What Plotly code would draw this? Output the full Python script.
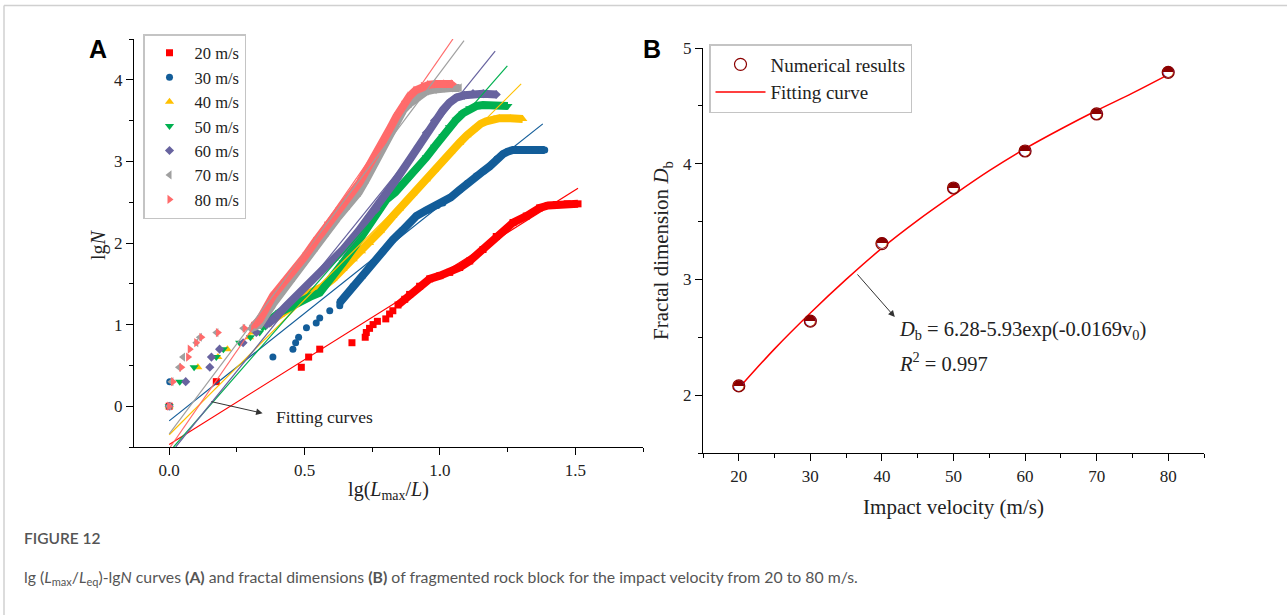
import plotly.graph_objects as go

W, H = 1287, 615
SERIF = "Liberation Serif"

# ---------------- Panel A data ----------------
series_names = ["20 m/s", "30 m/s", "40 m/s", "50 m/s", "60 m/s", "70 m/s", "80 m/s"]
series_colors = ["#FF0000", "#135D99", "#FFC000", "#00B050", "#67639F", "#A0A0A0", "#FF6B6B"]
series_symbols = ["square", "circle", "triangle-up", "triangle-down", "diamond", "triangle-left", "triangle-right"]

# discrete (sparse) points at small lg(Lmax/L)
disc_x = [
    [0.0, 0.174, 0.488, 0.515, 0.556, 0.675, 0.724, 0.728, 0.740, 0.753, 0.769, 0.80, 0.814, 0.826],
    [0.0, 0.002, 0.383, 0.457, 0.467, 0.478, 0.507, 0.543, 0.556, 0.593, 0.63],
    [0.0, 0.106, 0.18, 0.215, 0.297, 0.307, 0.365],
    [0.0, 0.039, 0.092, 0.174, 0.20, 0.26, 0.30, 0.334],
    [0.0, 0.061, 0.15, 0.156, 0.186, 0.273, 0.322],
    [0.0, 0.008, 0.036, 0.051, 0.10, 0.113, 0.174, 0.273],
    [0.0, 0.014, 0.045, 0.07, 0.076, 0.10, 0.119, 0.18, 0.279],
]
disc_y = [
    [0.0, 0.301, 0.477, 0.602, 0.699, 0.778, 0.845, 0.903, 0.954, 1.0, 1.04, 1.07, 1.13, 1.17],
    [0.0, 0.301, 0.602, 0.699, 0.778, 0.845, 0.96, 1.02, 1.08, 1.17, 1.23],
    [0.0, 0.477, 0.602, 0.699, 0.845, 0.903, 1.0],
    [0.0, 0.301, 0.477, 0.602, 0.699, 0.778, 0.845, 0.903],
    [0.0, 0.301, 0.477, 0.602, 0.699, 0.778, 0.903],
    [0.0, 0.301, 0.477, 0.602, 0.778, 0.845, 0.903, 0.954],
    [0.0, 0.301, 0.477, 0.602, 0.699, 0.778, 0.845, 0.903, 0.954],
]
# dense part of each curve
band_x = [
    [0.845, 0.870, 0.888, 0.925, 0.962, 1.0, 1.036, 1.073, 1.11, 1.159, 1.208, 1.27, 1.319, 1.368, 1.40, 1.43, 1.47, 1.51],
    [0.63, 0.679, 0.715, 0.753, 0.79, 0.826, 0.863, 0.913, 0.95, 0.99, 1.011, 1.04, 1.073, 1.10, 1.134, 1.16, 1.184, 1.21, 1.233, 1.25, 1.27, 1.306, 1.35, 1.387],
    [0.383, 0.41, 0.457, 0.494, 0.531, 0.57, 0.605, 0.642, 0.68, 0.71, 0.74, 0.78, 0.826, 0.85, 0.90, 0.95, 0.98, 1.011, 1.04, 1.073, 1.10, 1.122, 1.15, 1.171, 1.20, 1.22, 1.26, 1.306],
    [0.345, 0.37, 0.408, 0.445, 0.482, 0.52, 0.556, 0.60, 0.642, 0.69, 0.74, 0.775, 0.802, 0.835, 0.863, 0.888, 0.92, 0.95, 0.98, 1.011, 1.035, 1.06, 1.085, 1.11, 1.135, 1.159, 1.20, 1.251],
    [0.36, 0.383, 0.433, 0.48, 0.519, 0.56, 0.60, 0.642, 0.70, 0.74, 0.765, 0.80, 0.839, 0.888, 0.92, 0.95, 0.98, 1.011, 1.035, 1.06, 1.09, 1.122, 1.16, 1.208],
    [0.30, 0.334, 0.383, 0.42, 0.457, 0.50, 0.54, 0.58, 0.62, 0.66, 0.70, 0.728, 0.76, 0.79, 0.815, 0.839, 0.865, 0.888, 0.92, 0.95, 0.98, 1.011, 1.04, 1.073],
    [0.31, 0.334, 0.383, 0.42, 0.457, 0.50, 0.54, 0.58, 0.62, 0.66, 0.703, 0.728, 0.76, 0.79, 0.815, 0.839, 0.865, 0.888, 0.91, 0.937, 0.96, 0.987, 1.02, 1.048],
]
band_y = [
    [1.24, 1.31, 1.37, 1.47, 1.56, 1.60, 1.64, 1.70, 1.78, 1.92, 2.08, 2.25, 2.33, 2.43, 2.46, 2.47, 2.48, 2.48],
    [1.27, 1.47, 1.60, 1.76, 1.90, 2.04, 2.16, 2.33, 2.40, 2.46, 2.49, 2.56, 2.65, 2.73, 2.82, 2.88, 2.94, 3.03, 3.09, 3.12, 3.14, 3.14, 3.14, 3.14],
    [1.06, 1.12, 1.23, 1.35, 1.40, 1.47, 1.56, 1.68, 1.80, 1.90, 2.0, 2.15, 2.33, 2.42, 2.61, 2.78, 2.90, 3.02, 3.12, 3.23, 3.32, 3.39, 3.46, 3.49, 3.52, 3.53, 3.53, 3.52],
    [0.96, 1.05, 1.15, 1.22, 1.29, 1.34, 1.39, 1.57, 1.76, 1.98, 2.21, 2.38, 2.53, 2.62, 2.72, 2.80, 2.92, 3.05, 3.18, 3.31, 3.42, 3.51, 3.59, 3.65, 3.68, 3.69, 3.69, 3.68],
    [1.0, 1.06, 1.23, 1.38, 1.51, 1.65, 1.78, 1.92, 2.15, 2.33, 2.41, 2.60, 2.78, 3.02, 3.18, 3.35, 3.50, 3.63, 3.72, 3.78, 3.81, 3.83, 3.83, 3.82],
    [0.95, 1.0, 1.25, 1.42, 1.58, 1.78, 1.95, 2.13, 2.30, 2.46, 2.62, 2.78, 2.98, 3.18, 3.36, 3.51, 3.63, 3.71, 3.80, 3.86, 3.88, 3.90, 3.90, 3.90],
    [0.98, 1.06, 1.35, 1.50, 1.64, 1.83, 2.02, 2.21, 2.38, 2.55, 2.74, 2.88, 3.05, 3.23, 3.40, 3.55, 3.69, 3.80, 3.87, 3.92, 3.94, 3.95, 3.95, 3.95],
]
# fitting lines: start and end points
fit_x0 = [0.0, 0.0, 0.0, 0.016, 0.024, 0.0, 0.004]
fit_y0 = [-0.47, -0.18, -0.35, -0.50, -0.50, -0.34, -0.50]
fit_x1 = [1.51, 1.38, 1.30, 1.249, 1.204, 1.089, 1.048]
fit_y1 = [2.67, 3.46, 3.95, 4.17, 4.35, 4.48, 4.50]

# ---------------- Panel B data ----------------
velocity = [20, 30, 40, 50, 60, 70, 80]
fractal_dim = [2.08, 2.64, 3.31, 3.79, 4.11, 4.43, 4.79]
curve_v = [20, 25, 30, 35, 40, 45, 50, 55, 60, 65, 70, 75, 80]
curve_d = [2.06, 2.40, 2.71, 3.00, 3.27, 3.51, 3.73, 3.94, 4.13, 4.30, 4.46, 4.61, 4.77]

fig = go.Figure()

# bands + markers (panel A)
for i in range(7):
    fig.add_trace(go.Scatter(
        x=band_x[i], y=band_y[i], mode="lines", xaxis="x", yaxis="y",
        line=dict(color=series_colors[i], width=8), showlegend=False, hoverinfo="skip"))
    msize = 7 if series_symbols[i] in ("square", "circle", "diamond") else 8
    fig.add_trace(go.Scatter(
        x=disc_x[i] + band_x[i], y=disc_y[i] + band_y[i], mode="markers",
        xaxis="x", yaxis="y", name=series_names[i], legend="legend",
        marker=dict(symbol=series_symbols[i], color=series_colors[i], size=msize, line=dict(width=0))))
for i in range(7):
    fig.add_trace(go.Scatter(
        x=[fit_x0[i], fit_x1[i]], y=[fit_y0[i], fit_y1[i]], mode="lines",
        xaxis="x", yaxis="y", line=dict(color=series_colors[i], width=1.2),
        showlegend=False, hoverinfo="skip"))

# panel B
fig.add_trace(go.Scatter(
    x=curve_v, y=curve_d, mode="lines", line=dict(color="#FF0000", width=1.5, shape="spline"),
    xaxis="x2", yaxis="y2", name="Fitting curve", legend="legend2", legendrank=2))
fig.add_trace(go.Scatter(
    x=velocity, y=fractal_dim, mode="markers", xaxis="x2", yaxis="y2",
    name="Numerical results", legend="legend2", legendrank=1,
    marker=dict(symbol="circle", size=12, color="#FFFFFF",
                line=dict(color="#8B0000", width=1.2))))
fig.add_trace(go.Scatter(
    x=velocity, y=fractal_dim, mode="text", text=["\u25D3"] * len(velocity),
    textposition="middle center", xaxis="x2", yaxis="y2", showlegend=False, hoverinfo="skip",
    textfont=dict(family="DejaVu Sans", size=15, color="#8B0000")))

axis_common = dict(showline=True, linecolor="#000", linewidth=1.3, ticks="outside",
                   ticklen=7, tickwidth=1.3, tickcolor="#000", showgrid=False, zeroline=False,
                   tickfont=dict(family=SERIF, size=17, color="#222"))
minor_common = dict(ticks="outside", ticklen=4, tickwidth=1.3, tickcolor="#000", tick0=0)

fig.update_layout(
    width=W, height=H, margin=dict(l=0, r=0, t=0, b=0, autoexpand=False),
    paper_bgcolor="white", plot_bgcolor="white",
    xaxis=dict(domain=[134 / W, 643 / W], range=[-0.13, 1.75], anchor="y",
               tickvals=[0, 0.5, 1.0, 1.5], ticktext=["0.0", "0.5", "1.0", "1.5"],
               minor=dict(dtick=0.25, **minor_common),
               title=dict(text="lg(<i>L</i><sub>max</sub>/<i>L</i>)", font=dict(family=SERIF, size=20, color="#222"), standoff=3),
               **axis_common),
    yaxis=dict(domain=[1 - 447 / H, 1 - 39 / H], range=[-0.5, 4.5], anchor="x",
               tickvals=[0, 1, 2, 3, 4],
               minor=dict(dtick=0.5, **minor_common),
               **axis_common),
    xaxis2=dict(domain=[703 / W, 1204 / W], range=[15, 85], anchor="y2",
                tickvals=[20, 30, 40, 50, 60, 70, 80],
                minor=dict(dtick=5, **minor_common),
                title=dict(text="Impact velocity (m/s)", font=dict(family=SERIF, size=21, color="#222"), standoff=14),
                **axis_common),
    yaxis2=dict(domain=[1 - 453 / H, 1 - 48 / H], range=[1.5, 5], anchor="x2",
                tickvals=[2, 3, 4, 5],
                minor=dict(dtick=0.5, **minor_common),
                title=dict(text="Fractal dimension <i>D</i><sub>b</sub>", font=dict(family=SERIF, size=21, color="#222"), standoff=8),
                **axis_common),
    legend=dict(x=143 / W, y=1 - 34 / H, xanchor="left", yanchor="top",
                bgcolor="white", bordercolor="#C4C4C4", borderwidth=1.5,
                font=dict(family=SERIF, size=16.5, color="#222"), itemwidth=40, tracegroupgap=0),
    legend2=dict(x=709 / W, y=1 - 44 / H, xanchor="left", yanchor="top",
                 bgcolor="white", bordercolor="#C4C4C4", borderwidth=1.5,
                 font=dict(family=SERIF, size=19, color="#222"), itemwidth=50, tracegroupgap=0),
    showlegend=True,
)

ann = []
# Panel labels
ann.append(dict(text="<b>A</b>", x=98 / W, y=1 - 49 / H, xref="paper", yref="paper",
                xanchor="center", yanchor="middle",
                showarrow=False, font=dict(family="Liberation Sans", size=25, color="#000")))
ann.append(dict(text="<b>B</b>", x=652 / W, y=1 - 49 / H, xref="paper", yref="paper",
                xanchor="center", yanchor="middle",
                showarrow=False, font=dict(family="Liberation Sans", size=25, color="#000")))
# Panel A y-axis title
ann.append(dict(text="lg<i>N</i>", x=98 / W, y=1 - 245 / H, xref="paper", yref="paper",
                xanchor="center", yanchor="middle", textangle=-90, showarrow=False,
                font=dict(family=SERIF, size=20, color="#222")))
# Panel A arrow + text
ann.append(dict(x=0.345, y=-0.086, ax=0.15, ay=0.06, xref="x", yref="y", axref="x", ayref="y",
                text="", showarrow=True, arrowhead=2, arrowsize=1.3, arrowwidth=1, arrowcolor="#333"))
ann.append(dict(x=0.386, y=-0.136, xref="x", yref="y", xanchor="left", yanchor="middle",
                text="Fitting curves", showarrow=False, font=dict(family=SERIF, size=17.5, color="#222")))
# Panel B arrow + text
ann.append(dict(x=41.8, y=2.675, ax=36.4, ay=3.056, xref="x2", yref="y2", axref="x2", ayref="y2",
                text="", showarrow=True, arrowhead=2, arrowsize=1.3, arrowwidth=1, arrowcolor="#333"))
ann.append(dict(x=42.1, y=2.563, xref="x2", yref="y2", xanchor="left", yanchor="middle",
                text="<i>D</i><sub>b</sub> = 6.28-5.93exp(-0.0169v<sub>0</sub>)", showarrow=False,
                font=dict(family=SERIF, size=20.5, color="#222")))
ann.append(dict(x=42.1, y=2.286, xref="x2", yref="y2", xanchor="left", yanchor="middle",
                text="<i>R</i><sup>2</sup> = 0.997", showarrow=False,
                font=dict(family=SERIF, size=20.5, color="#222")))
# Caption
ann.append(dict(text="FIGURE 12", x=22 / W, y=1 - 538 / H, xref="paper", yref="paper",
                xanchor="left", yanchor="middle", showarrow=False,
                font=dict(family="Lato", size=15.5, color="#555", weight=600)))
ann.append(dict(text="lg (<i>L</i><sub>max</sub>/<i>L</i><sub>eq</sub>)-lg<i>N</i> curves <b>(A)</b> and fractal dimensions <b>(B)</b> of fragmented rock block for the impact velocity from 20 to 80 m/s.",
                x=22 / W, y=1 - 577 / H, xref="paper", yref="paper",
                xanchor="left", yanchor="middle", showarrow=False,
                font=dict(family="Lato", size=15.8, color="#555")))
fig.update_layout(annotations=ann)

# frame lines of the figure box
fig.add_shape(type="line", xref="paper", yref="paper", x0=4 / W, x1=1, y0=1 - 5.5 / H, y1=1 - 5.5 / H,
              line=dict(color="#D0D0D0", width=1.5))
fig.add_shape(type="line", xref="paper", yref="paper", x0=4 / W, x1=4 / W, y0=0, y1=1 - 5.5 / H,
              line=dict(color="#D0D0D0", width=1.5))

fig.write_html("out.html")
